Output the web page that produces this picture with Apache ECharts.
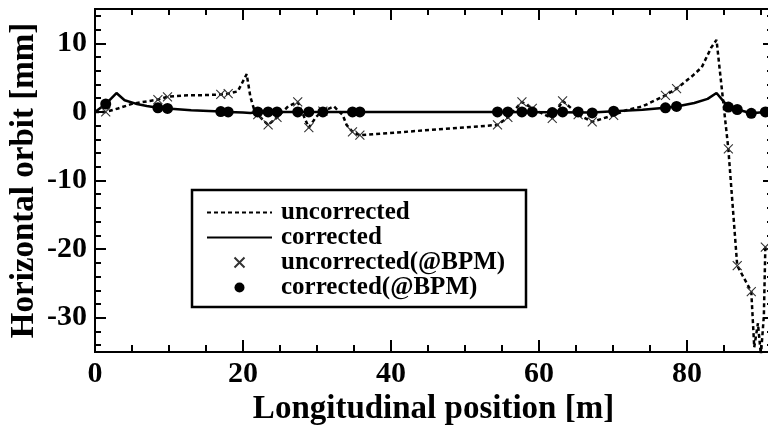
<!DOCTYPE html>
<html>
<head>
<meta charset="utf-8">
<script src="https://cdn.jsdelivr.net/npm/echarts@6/dist/echarts.min.js"></script>
<style>
  html, body { margin: 0; padding: 0; background: #fff; }
  #chart { width: 768px; height: 426px; }
</style>
</head>
<body>
<div id="chart"></div>
<script>
// orbit along the line (simulated, dense points)
const uncorrS = [0, 1.45, 3.1, 5.1, 7.4, 8.5, 9.8, 12, 15, 17.0, 18.0, 19.3, 20.5, 21.0, 21.6, 23.4, 24.6, 26.1, 27.4, 28.9, 29.9, 30.8, 32.3, 33.5, 34.0, 34.8, 35.8, 54.4, 55.8, 57.7, 59.1, 61.8, 63.2, 65.5, 67.2, 70.0, 71.8, 74.0, 77.1, 78.6, 80.8, 82.0, 83.3, 84.0, 85.6, 86.8, 88.7, 89.1, 89.6, 90.0, 90.4, 90.6]
const uncorrOrbit = [0, 0, 0.5, 1.2, 1.6, 1.8, 2.2, 2.4, 2.45, 2.55, 2.65, 3.0, 5.5, 2.2, 0, -1.9, -0.8, 0.8, 1.45, -2.3, -0.7, 0.1, 0.8, -0.5, -1.9, -2.9, -3.4, -1.9, -0.8, 1.45, 0.5, -0.95, 1.6, -0.5, -1.45, -0.5, 0.25, 0.8, 2.4, 3.4, 5.3, 6.5, 9.4, 10.5, -5.4, -22.4, -26.2, -34.3, -30.8, -35.5, -29.7, -19.7]

const corrS = [0, 1.45, 2.9, 4.0, 5.5, 7.0, 8.5, 9.8, 13.0, 17.0, 18.0, 20.0, 21.0, 22.0, 30.8, 34.8, 54.4, 61.8, 67.2, 70.1, 74.0, 77.1, 78.6, 81.0, 82.8, 84.0, 85.6, 86.8, 88.7, 90.6, 91.5]
const corrOrbit = [0, 1.15, 2.75, 1.7, 1.2, 0.85, 0.6, 0.5, 0.25, 0.05, 0, -0.1, -0.15, 0, 0, 0, 0, -0.05, -0.1, 0.1, 0.3, 0.6, 0.8, 1.3, 1.9, 2.75, 0.7, 0.35, -0.2, 0, 0]

// values at the BPMs
const bpmS = [1.45, 8.5, 9.8, 17.0, 18.0, 22.0, 23.4, 24.6, 27.4, 28.9, 30.8, 34.8, 35.8, 54.4, 55.8, 57.7, 59.1, 61.8, 63.2, 65.3, 67.2, 70.1, 77.1, 78.6, 85.6, 86.8, 88.7, 90.6]
const bpmUncorr = [0, 1.8, 2.2, 2.55, 2.65, -0.4, -1.9, -0.8, 1.45, -2.3, 0.1, -2.9, -3.4, -1.9, -0.8, 1.45, 0.5, -0.95, 1.6, -0.4, -1.45, -0.5, 2.4, 3.4, -5.4, -22.4, -26.2, -19.7]
const bpmCorr = [1.15, 0.6, 0.5, 0.05, 0, 0, 0, 0, 0, 0, 0, 0, 0, 0, 0, 0, 0, -0.1, 0, 0, -0.15, 0.1, 0.6, 0.8, 0.7, 0.35, -0.2, 0]

const xLabels = [0, 20, 40, 60, 80]
const xMinor = [5, 10, 15, 25, 30, 35, 45, 50, 55, 65, 70, 75, 85, 90]
const yLabels = [-30, -20, -10, 0, 10]
const yMinor = [-34, -32, -28, -26, -24, -22, -18, -16, -14, -12, -8, -6, -4, -2, 2, 4, 6, 8, 12, 14]

const zip = (xs, ys) => xs.map((x, i) => [x, ys[i]])

const font = 'Liberation Serif'
const xMin = 0
const xMax = 91.5
const yMin = -35
const yMax = 15

const axisLine = { show: true, onZero: false, lineStyle: { color: '#000', width: 2 } }

function xAxisOf(position, ticks, len, withLabels) {
  return {
    type: 'value',
    position,
    min: xMin,
    max: xMax,
    axisLine,
    splitLine: { show: false },
    axisTick: { show: true, inside: true, length: len, customValues: ticks, lineStyle: { color: '#000', width: 2 } },
    axisLabel: withLabels
      ? { show: true, customValues: xLabels, margin: 7, color: '#000', fontFamily: font, fontWeight: 'bold', fontSize: 30 }
      : { show: false },
  }
}

function yAxisOf(position, ticks, len, withLabels) {
  return {
    type: 'value',
    position,
    min: yMin,
    max: yMax,
    axisLine,
    splitLine: { show: false },
    axisTick: { show: true, inside: true, length: len, customValues: ticks, lineStyle: { color: '#000', width: 2 } },
    axisLabel: withLabels
      ? { show: true, customValues: yLabels, margin: 8, color: '#000', fontFamily: font, fontWeight: 'bold', fontSize: 30 }
      : { show: false },
  }
}

const xAxes = [
  xAxisOf('bottom', xLabels, 12, true),
  xAxisOf('bottom', xMinor, 7, false),
  xAxisOf('top', xLabels, 11, false),
  xAxisOf('top', xMinor, 6, false),
]
Object.assign(xAxes[0], {
  name: 'Longitudinal position [m]',
  nameLocation: 'middle',
  nameGap: 41,
  nameMoveOverlap: false,
  nameTextStyle: { color: '#000', fontFamily: font, fontWeight: 'bold', fontSize: 33 },
})

const yAxes = [
  yAxisOf('left', yLabels, 11, true),
  yAxisOf('left', yMinor, 6, false),
  yAxisOf('right', yLabels, 9, false),
  yAxisOf('right', yMinor, 5, false),
]
Object.assign(yAxes[0], {
  name: 'Horizontal orbit [mm]',
  nameLocation: 'middle',
  nameGap: 54,
  nameMoveOverlap: false,
  nameTextStyle: { color: '#000', fontFamily: font, fontWeight: 'bold', fontSize: 33 },
})

const chart = echarts.init(document.getElementById('chart'))
chart.setOption({
  animation: false,
  backgroundColor: '#fff',
  grid: { left: 95, top: 9, width: 677, height: 343, outerBoundsMode: 'none', containLabel: false },
  xAxis: xAxes,
  yAxis: yAxes,
  graphic: [
    {
      type: 'rect',
      z: 10,
      shape: { x: 192, y: 190, width: 334, height: 117 },
      style: { fill: '#fff', stroke: '#000', lineWidth: 2.5 },
    },
  ],
  legend: {
    z: 20,
    left: 206,
    top: 200,
    orient: 'vertical',
    itemWidth: 65,
    itemHeight: 10,
    itemGap: 0,
    padding: 0,
    textStyle: {
      color: '#000',
      fontFamily: font,
      fontWeight: 'bold',
      fontSize: 25,
      lineHeight: 24.7,
      padding: [0, 0, 0, 4],
    },
    data: [
      { name: 'uncorrected', itemStyle: { opacity: 0 } },
      { name: 'corrected', itemStyle: { opacity: 0 } },
      'uncorrected(@BPM)',
      'corrected(@BPM)',
    ],
  },
  series: [
    {
      name: 'uncorrected',
      type: 'line',
      symbol: 'none',
      data: zip(uncorrS, uncorrOrbit),
      lineStyle: { color: '#000', width: 2.5, type: [4, 3] },
      itemStyle: { color: '#000' },
      z: 2,
    },
    {
      name: 'corrected',
      type: 'line',
      symbol: 'none',
      data: zip(corrS, corrOrbit),
      lineStyle: { color: '#000', width: 2.5 },
      itemStyle: { color: '#000' },
      z: 3,
    },
    {
      name: 'uncorrected(@BPM)',
      type: 'scatter',
      symbol: 'path://M0 0L10 10M10 0L0 10',
      symbolSize: 9,
      data: zip(bpmS, bpmUncorr),
      itemStyle: { color: 'none', borderColor: '#333', borderWidth: 1.1, opacity: 1 },
      z: 4,
    },
    {
      name: 'corrected(@BPM)',
      type: 'scatter',
      symbol: 'circle',
      symbolSize: 11,
      data: zip(bpmS, bpmCorr),
      itemStyle: { color: '#000', opacity: 1 },
      z: 5,
    },
  ],
})
</script>
</body>
</html>
